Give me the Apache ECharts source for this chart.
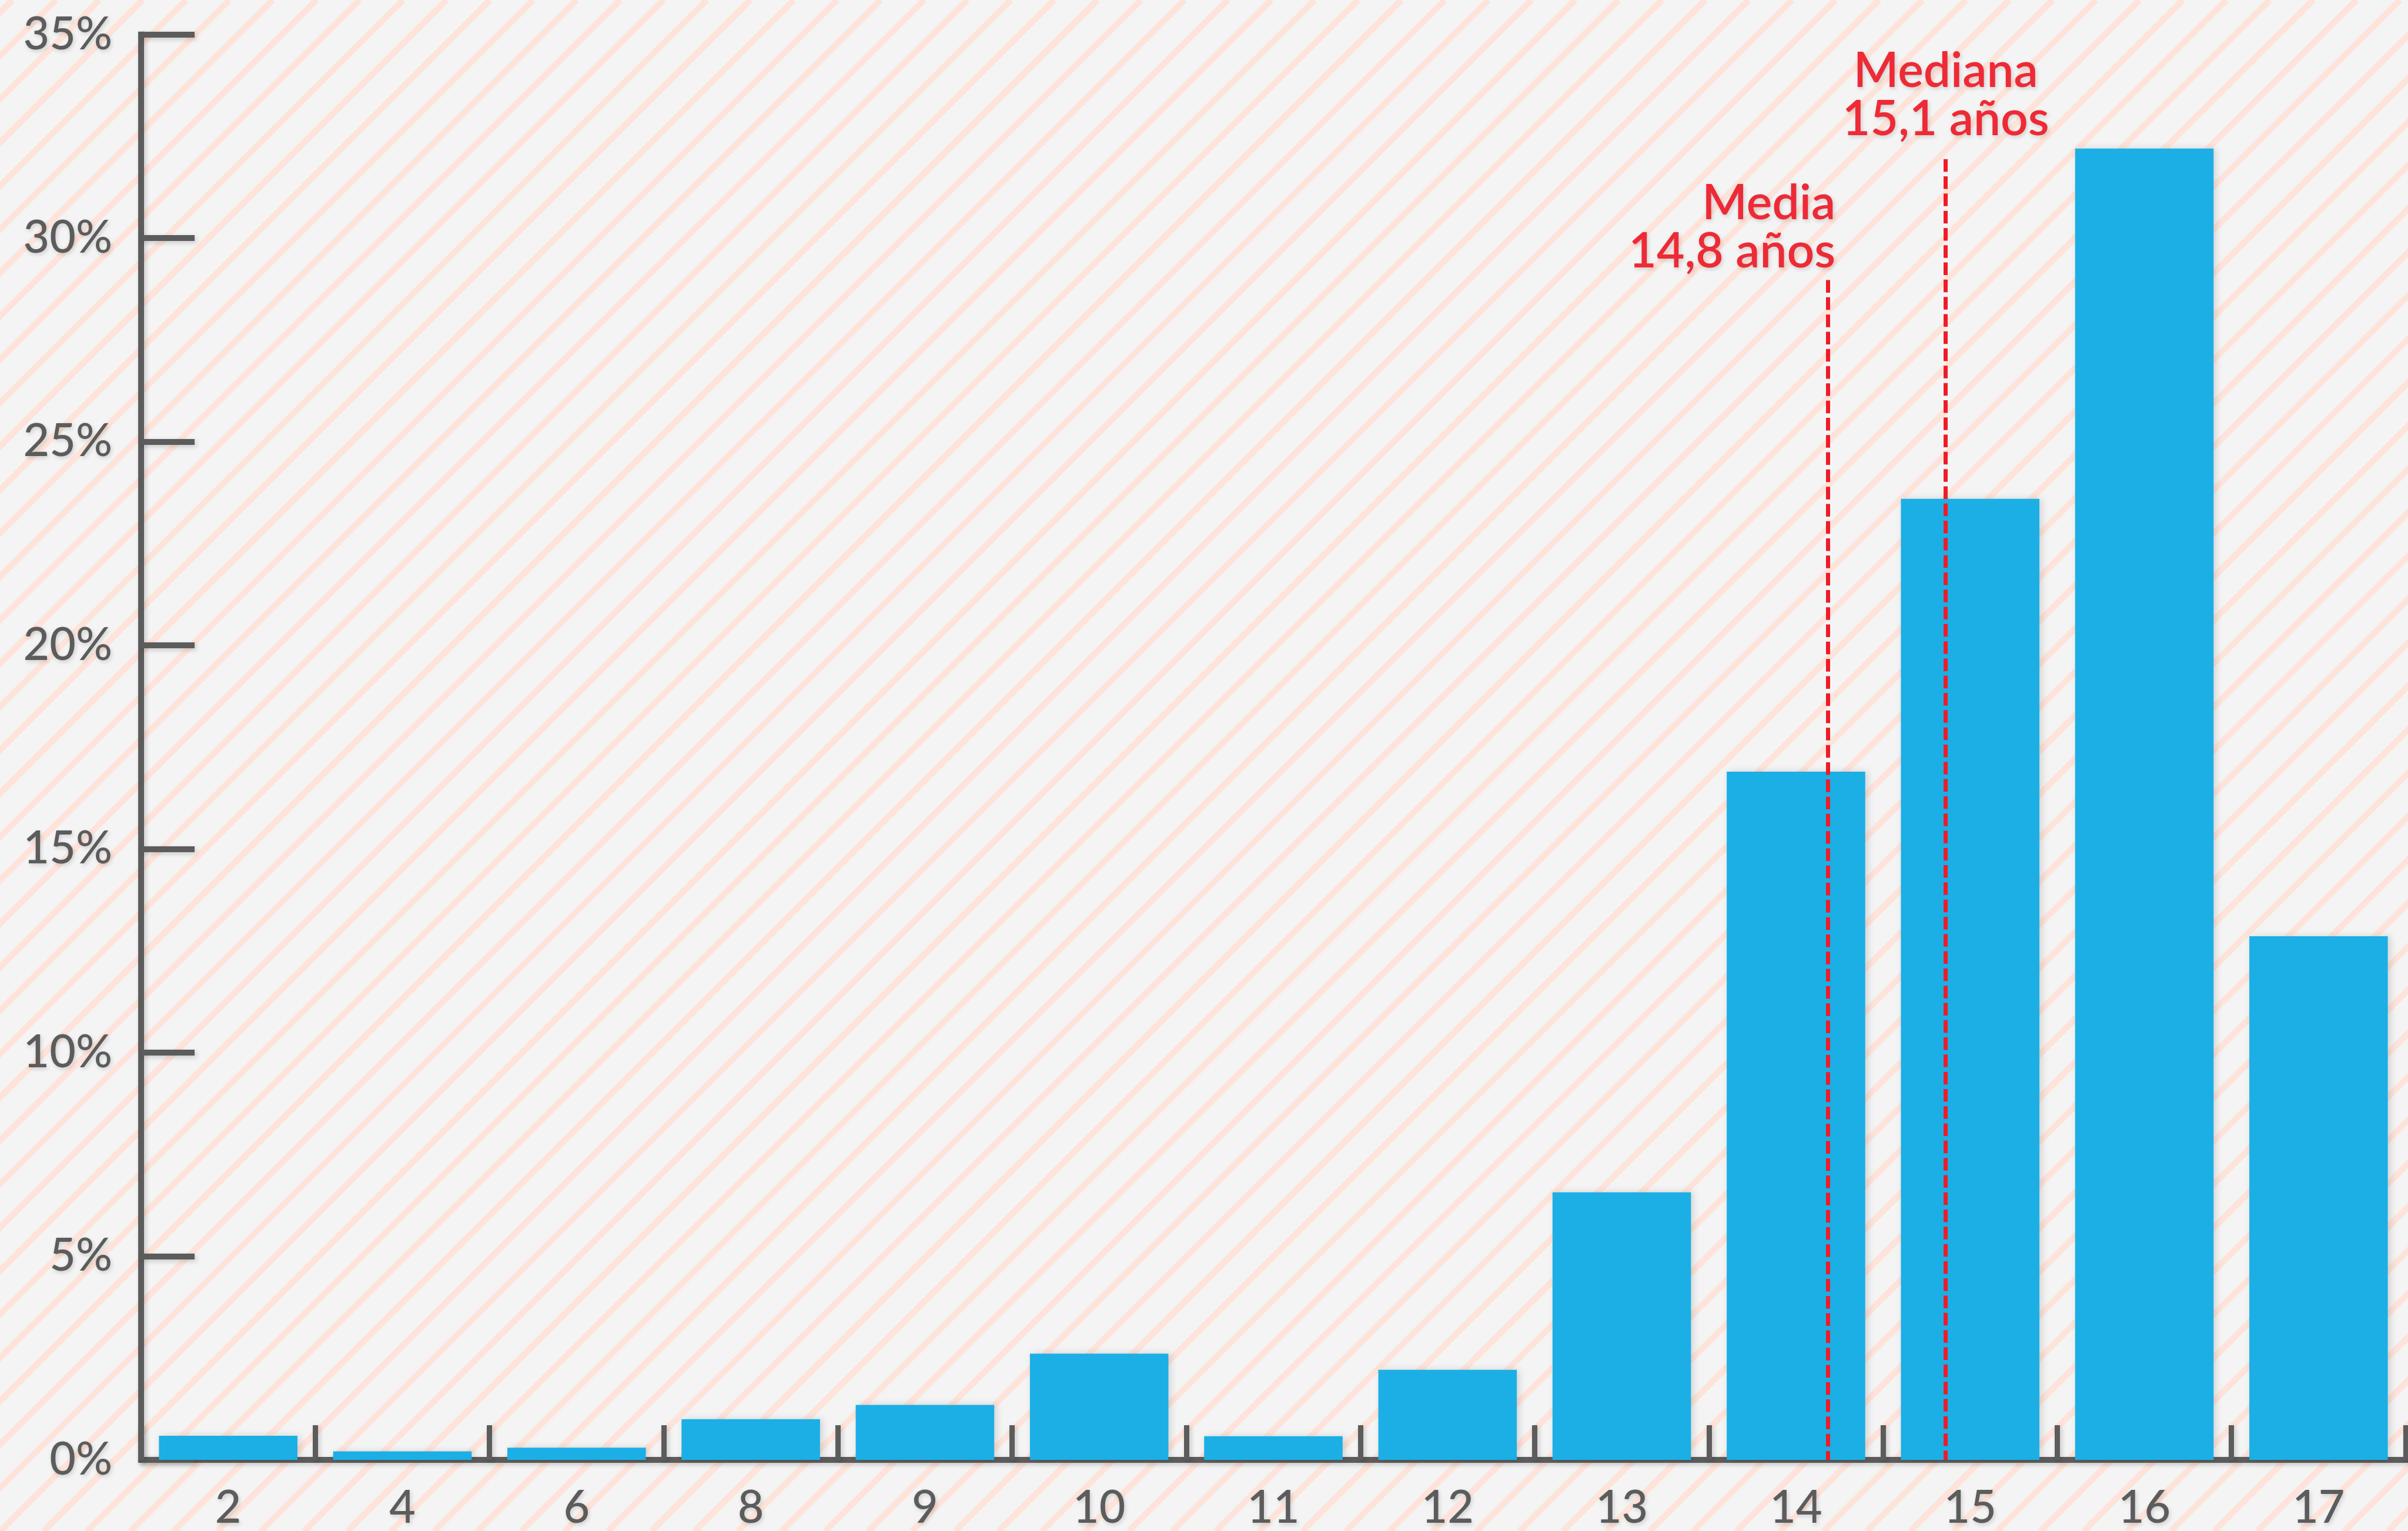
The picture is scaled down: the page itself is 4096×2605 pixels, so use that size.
<!DOCTYPE html>
<html>
<head>
<meta charset="utf-8">
<script src="https://cdn.jsdelivr.net/npm/echarts@6/dist/echarts.min.js"></script>
<style>
  html, body { margin: 0; padding: 0; background: #f4f4f4; }
  #chart { width: 4096px; height: 2605px; }
</style>
</head>
<body>
<div id="chart"></div>
<script>
// Edad (años) y porcentaje de casos
const ages = ['2', '4', '6', '8', '9', '10', '11', '12', '13', '14', '15', '16', '17'];
const shares = [0.59, 0.21, 0.30, 1.00, 1.35, 2.61, 0.58, 2.21, 6.57, 16.9, 23.6, 32.2, 12.86];

// Eje vertical
const yMin = 0;
const yMax = 35;
const yStep = 5;

// Media y mediana: rótulos, posición a lo largo del eje (en anchos de categoría) y altura de la línea (%)
const statNames = ['Media', 'Mediana'];
const statValues = ['14,8 años', '15,1 años'];
const statPos = [9.683, 10.36];
const statTop = [28.97, 31.94];

const W = 4096, H = 2605;
const GRAY = '#5b5c5b';
const BLUE = '#1bafe5';
const RED = '#ee1c28';
const RED_TEXT = '#ee2a36';
const FONT = 'Lato, "Noto Sans", sans-serif';

// Diagonal striped backdrop
function stripes() {
  const c = document.createElement('canvas');
  c.width = W; c.height = H;
  const g = c.getContext('2d');
  g.fillStyle = '#f4f4f4';
  g.fillRect(0, 0, W, H);
  g.strokeStyle = '#fde3d9';
  g.lineWidth = 10.4;
  const period = 73.84;
  for (let s = 94.9 - period * 2; s < W + H + period; s += period) {
    g.beginPath();
    g.moveTo(s, 0);
    g.lineTo(s - H, H);
    g.stroke();
  }
  return c;
}

const shadowLine = {
  shadowColor: 'rgba(0,0,0,0.18)', shadowBlur: 8, shadowOffsetX: 3, shadowOffsetY: 3
};
const shadowText = {
  textShadowColor: 'rgba(0,0,0,0.16)', textShadowBlur: 7, textShadowOffsetX: 2, textShadowOffsetY: 3
};

const chart = echarts.init(document.getElementById('chart'), null, { renderer: 'canvas' });

chart.setOption({
  animation: false,
  backgroundColor: '#f4f4f4',
  grid: { left: 240, right: 4, top: 58.7, bottom: 118.9, containLabel: false },
  xAxis: [
    {
      type: 'category',
      data: ages,
      boundaryGap: true,
      axisLine: { show: true, lineStyle: Object.assign({ color: GRAY, width: 10, cap: 'square' }, shadowLine) },
      axisTick: { show: true, inside: true, length: 59, lineStyle: Object.assign({ color: GRAY, width: 9 }, shadowLine) },
      axisLabel: Object.assign({ color: GRAY, fontFamily: FONT, fontWeight: 500, fontSize: 77, margin: 44 }, shadowText),
      splitLine: { show: false }
    },
    { type: 'value', min: 0, max: ages.length, show: false }
  ],
  yAxis: {
    type: 'value',
    min: yMin, max: yMax, interval: yStep,
    axisLine: { show: true, lineStyle: Object.assign({ color: GRAY, width: 10, cap: 'square' }, shadowLine) },
    axisTick: { show: true, inside: true, length: 91, lineStyle: Object.assign({ color: GRAY, width: 10 }, shadowLine) },
    axisLabel: Object.assign({ color: GRAY, fontFamily: FONT, fontWeight: 500, fontSize: 77, margin: 49, formatter: '{value}%' }, shadowText),
    splitLine: { show: false }
  },
  graphic: [{ type: 'image', left: 0, top: 0, z: -100, silent: true, style: { image: stripes(), width: W, height: H } }],
  series: [
    {
      type: 'bar',
      data: shares,
      barCategoryGap: '20.5%',
      itemStyle: { color: BLUE, shadowColor: 'rgba(0,0,0,0.14)', shadowBlur: 12, shadowOffsetX: 4, shadowOffsetY: 0 },
      z: 2
    },
    {
      type: 'scatter',
      xAxisIndex: 1,
      symbolSize: 0,
      data: [],
      z: 3,
      markLine: {
        silent: true,
        symbol: 'none',
        label: { show: false },
        lineStyle: { color: RED, width: 7, type: [21.5, 7.8] },
        data: statPos.map((p, i) => [{ coord: [p, statTop[i]] }, { coord: [p, 0] }])
      }
    }
  ]
});

// Rótulos de media y mediana, anclados a la parte superior de sus líneas
const labelStyle = {
  fill: RED_TEXT, font: '600 82px ' + FONT, lineHeight: 82, verticalAlign: 'bottom',
  textShadowColor: 'rgba(0,0,0,0.16)', textShadowBlur: 7, textShadowOffsetX: 2, textShadowOffsetY: 3
};

const tops = statPos.map((p, i) => chart.convertToPixel({ xAxisIndex: 1, yAxisIndex: 0 }, [p, statTop[i]]));
chart.setOption({
  graphic: [
    { type: 'image', left: 0, top: 0, z: -100, silent: true, style: { image: stripes(), width: W, height: H } },
    {
      type: 'text', z: 10, silent: true,
      x: tops[0][0] + 13, y: tops[0][1] - 7,
      style: Object.assign({}, labelStyle, { text: statNames[0] + '\n' + statValues[0], align: 'right' })
    },
    {
      type: 'text', z: 10, silent: true,
      x: tops[1][0], y: tops[1][1] - 26,
      style: Object.assign({}, labelStyle, { text: statNames[1] + '\n' + statValues[1], align: 'center' })
    }
  ]
});
</script>
</body>
</html>
